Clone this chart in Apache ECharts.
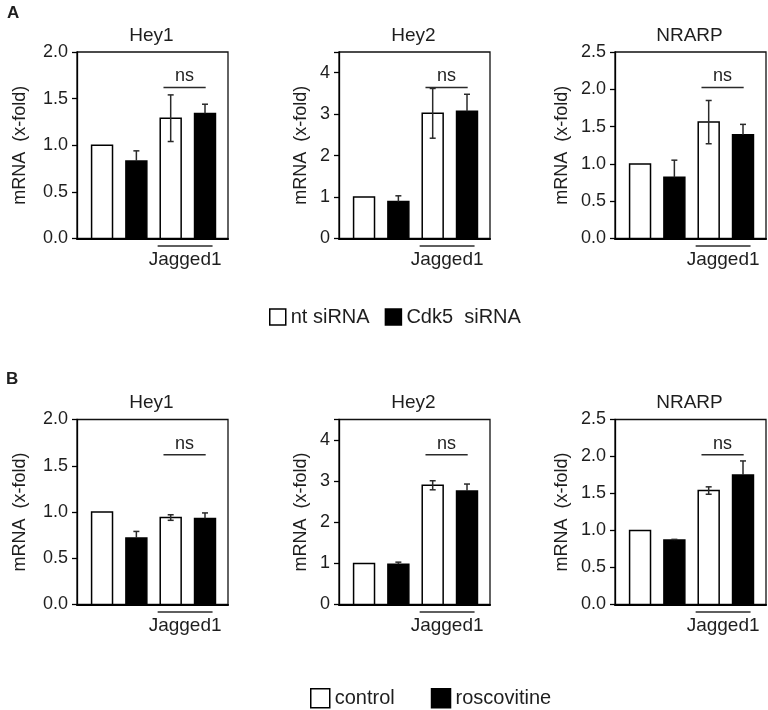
<!DOCTYPE html>
<html>
<head>
<meta charset="utf-8">
<script src="https://cdn.jsdelivr.net/npm/echarts@6/dist/echarts.min.js"></script>
<style>
html,body{margin:0;padding:0;background:#fff;}
#chart{width:768px;height:710px;}
</style>
</head>
<body>
<div id="chart"></div>
<script>
// ---- data ----
const positions = [1, 2, 3, 4];            // bar order: white, black, white+Jagged1, black+Jagged1
const titles = ['Hey1', 'Hey2', 'NRARP'];
const yMax = [2.0, 4.5, 2.5];
const yInterval = [0.5, 1, 0.5];
const legendA = ['nt siRNA', 'Cdk5  siRNA'];
const legendB = ['control', 'roscovitine'];
const groupLabel = 'Jagged1';
const sigLabel = 'ns';
const yName = 'mRNA  (x-fold)';

// Panel A (siRNA)
const hey1A = [1.00, 0.83, 1.29, 1.34];
const hey1A_err = [0, 0.11, 0.25, 0.10];
const hey2A = [1.00, 0.89, 3.02, 3.07];
const hey2A_err = [0, 0.14, 0.60, 0.41];
const nrarpA = [1.00, 0.82, 1.56, 1.39];
const nrarpA_err = [0, 0.23, 0.29, 0.14];
// Panel B (roscovitine)
const hey1B = [1.00, 0.72, 0.94, 0.93];
const hey1B_err = [0, 0.07, 0.03, 0.06];
const hey2B = [1.00, 0.98, 2.90, 2.76];
const hey2B_err = [0, 0.05, 0.11, 0.17];
const nrarpB = [1.00, 0.87, 1.54, 1.75];
const nrarpB_err = [0, 0.01, 0.05, 0.19];

// ---- layout ----
const FONT = "'Liberation Sans', Arial, sans-serif";
const TXT = '#1e1e1e';
const colLeft = [77, 339, 615];
const gridW = 151;
const rowTop = [52, 419.5];
const rowH = [186.5, 185];
const nameGaps = [48, 29, 44];
const barW = 0.61;           // in x units
const nsFrac = 0.81;          // ns line height as fraction of axis max
const nsRange = [2.79, 4.02];
const jagRange = [2.62, 4.22];

const panels = [
  {row: 0, col: 0, m: hey1A, e: hey1A_err, names: legendA},
  {row: 0, col: 1, m: hey2A, e: hey2A_err, names: legendA},
  {row: 0, col: 2, m: nrarpA, e: nrarpA_err, names: legendA},
  {row: 1, col: 0, m: hey1B, e: hey1B_err, names: legendB},
  {row: 1, col: 1, m: hey2B, e: hey2B_err, names: legendB},
  {row: 1, col: 2, m: nrarpB, e: nrarpB_err, names: legendB}
];

const grid = [], xAxis = [], yAxis = [], series = [], title = [];

function renderBar(params, api) {
  const x = api.value(0), y = api.value(1);
  const top = api.coord([x, y]);
  const base = api.coord([x, 0]);
  const w = api.size([barW, 0])[0];
  return {
    type: 'rect',
    shape: {x: top[0] - w / 2, y: top[1], width: w, height: base[1] - top[1]},
    style: {fill: api.visual('color'), stroke: '#000', lineWidth: 1.5}
  };
}
function makeErr(full) {
  return function (params, api) {
    const x = api.value(0), m = api.value(1), e = api.value(2);
    if (!e) return null;
    const hi = api.coord([x, m + e]);
    const lo = api.coord([x, full ? m - e : m]);
    const cw = 3;
    const st = {stroke: '#2a2a2a', lineWidth: 1.5};
    const ch = [
      {type: 'line', shape: {x1: hi[0], y1: hi[1], x2: lo[0], y2: lo[1]}, style: st},
      {type: 'line', shape: {x1: hi[0] - cw, y1: hi[1], x2: hi[0] + cw, y2: hi[1]}, style: st}
    ];
    if (full) ch.push({type: 'line', shape: {x1: lo[0] - cw, y1: lo[1], x2: lo[0] + cw, y2: lo[1]}, style: st});
    return {type: 'group', children: ch};
  };
}
function renderAnnot(params, api) {
  const ns0 = api.coord([api.value(0), api.value(2)]);
  const ns1 = api.coord([api.value(1), api.value(2)]);
  const j0 = api.coord([api.value(3), 0]);
  const j1 = api.coord([api.value(4), 0]);
  const st = {stroke: '#2a2a2a', lineWidth: 1.5};
  return {
    type: 'group',
    children: [
      {type: 'line', shape: {x1: ns0[0], y1: ns0[1], x2: ns1[0], y2: ns1[1]}, style: st},
      {type: 'text', x: (ns0[0] + ns1[0]) / 2, y: ns0[1] - 2,
        style: {text: sigLabel, fill: TXT, font: '18px ' + FONT, textAlign: 'center', textVerticalAlign: 'bottom'}},
      {type: 'line', shape: {x1: j0[0], y1: j0[1] + 7.5, x2: j1[0], y2: j1[1] + 7.5}, style: st},
      {type: 'text', x: (j0[0] + j1[0]) / 2, y: j0[1] + 21,
        style: {text: groupLabel, fill: TXT, font: '19px ' + FONT, textAlign: 'center', textVerticalAlign: 'middle'}}
    ]
  };
}

panels.forEach((p, i) => {
  const c = p.col, r = p.row;
  grid.push({left: colLeft[c], top: rowTop[r], width: gridW, height: rowH[r],
    show: true, borderColor: '#111', borderWidth: 1.3, backgroundColor: 'transparent'});
  xAxis.push({type: 'value', gridIndex: i, min: 0.27, max: 4.67,
    axisLine: {show: true, onZero: true, lineStyle: {color: '#000', width: 2.2}},
    axisTick: {show: false}, axisLabel: {show: false}, splitLine: {show: false}});
  yAxis.push({type: 'value', gridIndex: i, min: 0, max: yMax[c], interval: yInterval[c],
    name: yName, nameLocation: 'middle', nameGap: nameGaps[c],
    nameTextStyle: {fontFamily: FONT, fontSize: 18, color: TXT},
    axisLine: {show: true, lineStyle: {color: '#000', width: 1.3}},
    axisTick: {show: true, inside: false, length: 5, lineStyle: {color: '#000', width: 1.3}},
    axisLabel: {fontFamily: FONT, fontSize: 18, color: TXT, margin: 9,
      formatter: v => {
        const k = Math.round(v / yInterval[c]);
        if (Math.abs(v - k * yInterval[c]) > 1e-6) return '';
        return yInterval[c] < 1 ? v.toFixed(1) : String(v);
      }},
    splitLine: {show: false}});
  title.push({text: titles[c], left: colLeft[c] + gridW / 2 - 6, top: rowTop[r] - 31,
    textAlign: 'center',
    textStyle: {fontFamily: FONT, fontSize: 19, fontWeight: 'normal', color: TXT}});
  const whites = [], blacks = [], errW = [], errB = [];
  positions.forEach((x, k) => {
    (k % 2 === 0 ? whites : blacks).push([x, p.m[k]]);
    (k % 2 === 0 ? errW : errB).push([x, p.m[k], p.e[k]]);
  });
  series.push({type: 'custom', name: p.names[0], xAxisIndex: i, yAxisIndex: i, z: 2,
    itemStyle: {color: '#ffffff'}, renderItem: renderBar, data: whites, encode: {x: 0, y: 1}});
  series.push({type: 'custom', name: p.names[1], xAxisIndex: i, yAxisIndex: i, z: 2,
    itemStyle: {color: '#000000'}, renderItem: renderBar, data: blacks, encode: {x: 0, y: 1}});
  series.push({type: 'custom', name: 'errW', xAxisIndex: i, yAxisIndex: i, z: 3,
    renderItem: makeErr(true), data: errW, encode: {x: 0, y: 1}});
  series.push({type: 'custom', name: 'errB', xAxisIndex: i, yAxisIndex: i, z: 3,
    renderItem: makeErr(false), data: errB, encode: {x: 0, y: 1}});
  series.push({type: 'custom', name: 'annot', xAxisIndex: i, yAxisIndex: i, z: 3, silent: true, clip: false,
    renderItem: renderAnnot,
    data: [[nsRange[0], nsRange[1], nsFrac * yMax[c], jagRange[0], jagRange[1]]],
    encode: {x: [0, 1], y: 2}});
});

title.push({text: 'A', left: 7, top: 5, padding: 0, textStyle: {fontFamily: FONT, fontSize: 17, fontWeight: 'bold', color: TXT}});
title.push({text: 'B', left: 6, top: 371, padding: 0, textStyle: {fontFamily: FONT, fontSize: 17, fontWeight: 'bold', color: TXT}});

function legendItems(names) {
  return [
    {name: names[0], icon: 'rect', itemStyle: {color: '#fff', borderColor: '#000', borderWidth: 1.5}},
    {name: names[1], icon: 'rect', itemStyle: {color: '#000', borderColor: '#000', borderWidth: 1.5}}
  ];
}

const option = {
  animation: false,
  backgroundColor: '#fff',
  title: title,
  legend: [
    {data: legendItems(legendA), left: 269, top: 307, itemWidth: 16, itemHeight: 16, itemGap: 15,
      padding: 0, selectedMode: false,
      textStyle: {fontFamily: FONT, fontSize: 20, color: TXT}},
    {data: legendItems(legendB), left: 310, top: 688, itemWidth: 19, itemHeight: 19, itemGap: 36,
      padding: 0, selectedMode: false,
      textStyle: {fontFamily: FONT, fontSize: 20, color: TXT}}
  ],
  grid: grid, xAxis: xAxis, yAxis: yAxis, series: series
};
const chart = echarts.init(document.getElementById('chart'), null, {renderer: 'canvas'});
chart.setOption(option);
</script>
</body>
</html>
